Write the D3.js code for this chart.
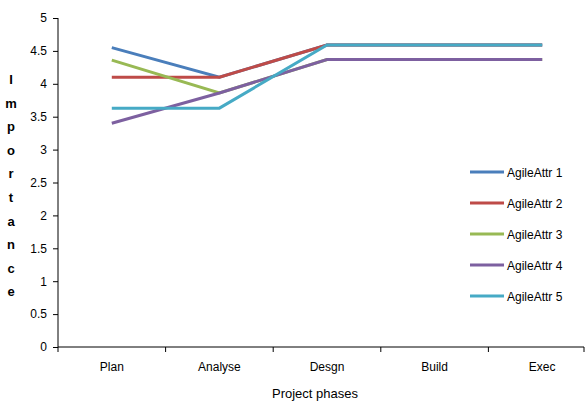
<!DOCTYPE html>
<html>
<head>
<meta charset="utf-8">
<script src="https://cdn.jsdelivr.net/npm/d3@7"></script>
<style>
  body { margin: 0; background: #fff; }
  text { font-family: "Liberation Sans", Arial, sans-serif; }
</style>
</head>
<body>
<div id="chart"></div>
<script>
var phases = ['Plan', 'Analyse', 'Desgn', 'Build', 'Exec']
var seriesNames = ['AgileAttr 1', 'AgileAttr 2', 'AgileAttr 3', 'AgileAttr 4', 'AgileAttr 5']
var attr1 = [4.55, 4.1, 4.59, 4.59, 4.59]
var attr2 = [4.1, 4.1, 4.59, 4.59, 4.59]
var attr3 = [4.36, 3.86, 4.37, 4.37, 4.37]
var attr4 = [3.4, 3.86, 4.37, 4.37, 4.37]
var attr5 = [3.63, 3.63, 4.59, 4.59, 4.59]
var yTicks = [0, 0.5, 1, 1.5, 2, 2.5, 3, 3.5, 4, 4.5, 5]
var colors = ['#4a7ebb', '#be4b48', '#98b954', '#7d60a0', '#46aac5']

var series = [attr1, attr2, attr3, attr4, attr5].map(function (v, i) {
    return { name: seriesNames[i], values: v, color: colors[i] }
})

var width = 588, height = 408
var svg = d3.select('#chart').append('svg')
    .attr('width', width)
    .attr('height', height)

var x = d3.scaleBand().domain(phases).range([58, 596])
var y = d3.scaleLinear().domain([0, 5]).range([347, 18])
var axisEnd = 584

// y axis
var yAxis = svg.append('g')
    .attr('transform', 'translate(58,0)')
    .call(d3.axisLeft(y).tickValues(yTicks).tickSize(5).tickPadding(6)
        .tickFormat(function (d) { return d }))
yAxis.selectAll('text').attr('font-size', '12px').attr('fill', '#000')
yAxis.selectAll('line, path').attr('stroke', '#000')
yAxis.select('.domain').attr('d', 'M0,' + y(5) + 'V' + y(0))

// x axis with ticks at band boundaries
var xg = svg.append('g').attr('transform', 'translate(0,347)')
xg.append('line').attr('x1', 58).attr('x2', axisEnd).attr('stroke', '#000')
var bounds = phases.map(function (p) { return x(p) }).concat([axisEnd])
xg.selectAll('.xt').data(bounds).enter().append('line')
    .attr('x1', function (d) { return d }).attr('x2', function (d) { return d })
    .attr('y1', 0).attr('y2', 5).attr('stroke', '#000')
xg.selectAll('.xl').data(phases).enter().append('text')
    .attr('x', function (d) { return x(d) + x.bandwidth() / 2 })
    .attr('y', 24)
    .attr('text-anchor', 'middle')
    .attr('font-size', '12px')
    .text(function (d) { return d })

svg.append('text')
    .attr('x', 315).attr('y', 398)
    .attr('text-anchor', 'middle')
    .attr('font-size', '13px')
    .text('Project phases')

// stacked y label
var letters = 'Importance'.split('')
svg.selectAll('.yl').data(letters).enter().append('text')
    .attr('x', 11)
    .attr('y', function (d, i) { return 84 + i * 23.6 })
    .attr('text-anchor', 'middle')
    .attr('font-size', '13px')
    .attr('font-weight', 'bold')
    .text(function (d) { return d })

var line = d3.line()
    .x(function (d, i) { return x(phases[i]) + x.bandwidth() / 2 })
    .y(function (d) { return y(d) })

svg.selectAll('.series').data(series).enter().append('path')
    .attr('fill', 'none')
    .attr('stroke', function (d) { return d.color })
    .attr('stroke-width', 3)
    .attr('d', function (d) { return line(d.values) })

// legend
var lg = svg.selectAll('.lg').data(series).enter().append('g')
    .attr('transform', function (d, i) { return 'translate(470,' + (172 + i * 31) + ')' })
lg.append('line').attr('x1', 0).attr('x2', 34)
    .attr('stroke', function (d) { return d.color }).attr('stroke-width', 3)
lg.append('text').attr('x', 37).attr('y', 4.5)
    .attr('font-size', '12px')
    .text(function (d) { return d.name })
</script>
</body>
</html>
